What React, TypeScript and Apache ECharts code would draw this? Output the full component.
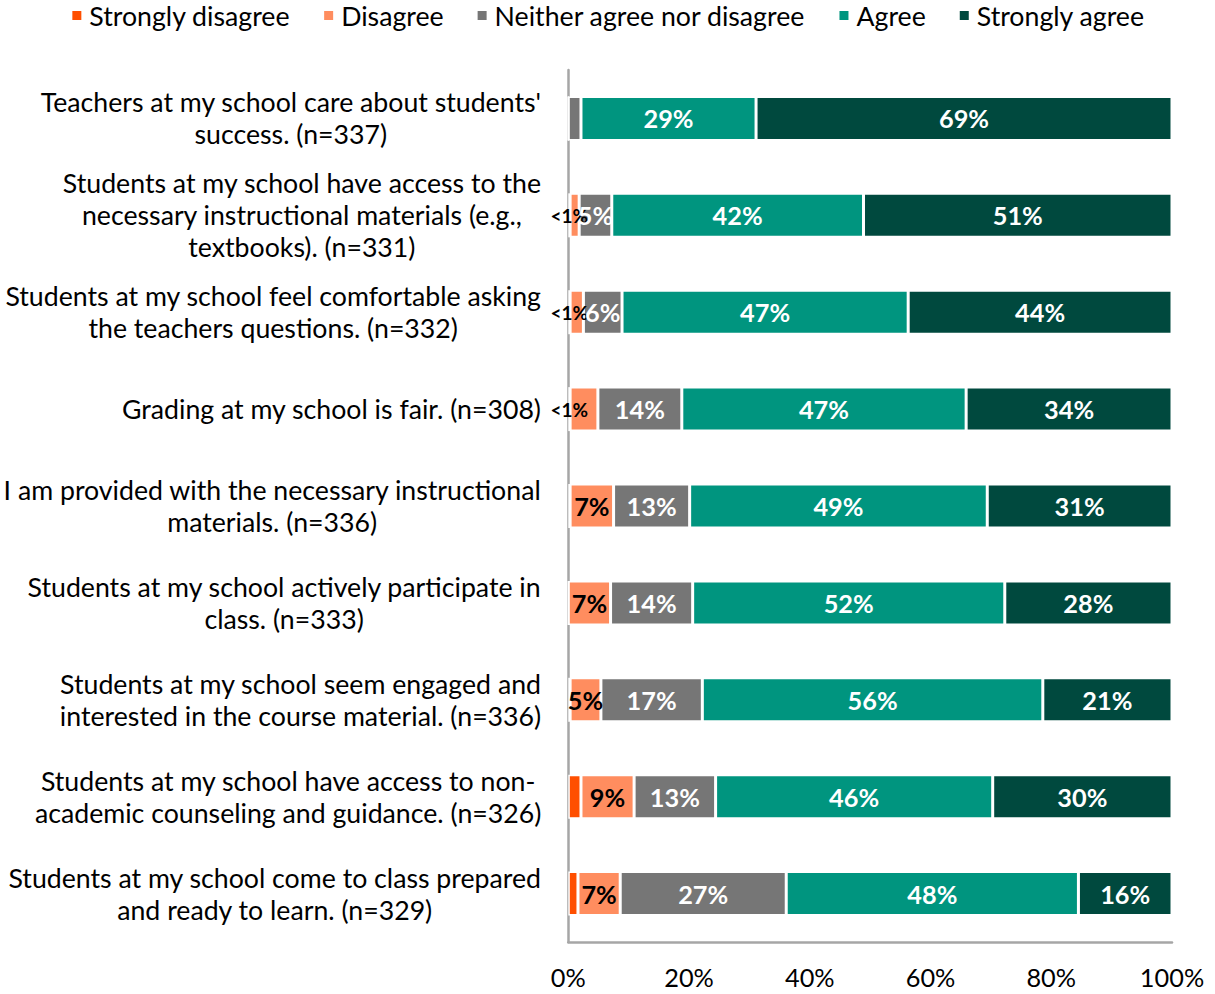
import React, { useEffect, useRef } from "react";
import * as echarts from "echarts";

const categories = [
  "Teachers at my school care about students'\nsuccess. (n=337)",
  "Students at my school have access to the\nnecessary instructional materials (e.g.,\ntextbooks). (n=331)",
  "Students at my school feel comfortable asking\nthe teachers questions. (n=332)",
  "Grading at my school is fair. (n=308)",
  "I am provided with the necessary instructional\nmaterials. (n=336)",
  "Students at my school actively participate in\nclass. (n=333)",
  "Students at my school seem engaged and\ninterested in the course material. (n=336)",
  "Students at my school have access to non-\nacademic counseling and guidance. (n=326)",
  "Students at my school come to class prepared\nand ready to learn. (n=329)",
];

const seriesNames = ["Strongly disagree", "Disagree", "Neither agree nor disagree", "Agree", "Strongly agree"];

const stronglyDisagree = [0, 0.3, 0.3, 0.3, 0.3, 0, 0.3, 2.1, 1.6];
const disagree = [0, 1.5, 2.2, 4.6, 7.2, 7.0, 5.1, 8.8, 7.0];
const neither = [2.1, 5.4, 6.4, 13.9, 12.6, 13.6, 16.8, 13.5, 27.5];
const agree = [29.0, 41.7, 47.4, 47.1, 49.3, 51.7, 56.4, 45.9, 48.4];
const stronglyAgree = [68.9, 51.1, 43.7, 34.1, 30.6, 27.7, 21.4, 29.7, 15.5];

const labelsSD = ["", "<1%", "<1%", "<1%", "", "", "", "", ""];
const labelsD = ["", "", "", "", "7%", "7%", "5%", "9%", "7%"];
const labelsN = ["", "5%", "6%", "14%", "13%", "14%", "17%", "13%", "27%"];
const labelsA = ["29%", "42%", "47%", "47%", "49%", "52%", "56%", "46%", "48%"];
const labelsSA = ["69%", "51%", "44%", "34%", "31%", "28%", "21%", "30%", "16%"];

const xTicks = [0, 20, 40, 60, 80, 100];

const colors = ["#FF4F00", "#FF8D5F", "#767676", "#00957F", "#00493E"];
const FONT = "Lato, 'Open Sans', sans-serif";

export default function App() {
  const ref = useRef<HTMLDivElement>(null);
  useEffect(() => {
    if (!ref.current) return;
    const chart = echarts.init(ref.current, null, { renderer: "svg" });
    const values = [stronglyDisagree, disagree, neither, agree, stronglyAgree];
    const labels = [labelsSD, labelsD, labelsN, labelsA, labelsSA];
    const labelColors = ["#000", "#000", "#fff", "#fff", "#fff"];
    const labelSizes = [19, 25.3, 25.3, 25.3, 25.3];
    const series = seriesNames.map((name, s) => ({
      name,
      type: "bar",
      stack: "total",
      barWidth: 44,
      itemStyle: { color: colors[s], borderColor: "#fff", borderWidth: 1.5 },
      data: values[s].map((v, i) => ({
        value: v,
        label: {
          show: labels[s][i] !== "",
          formatter: labels[s][i],
          position: "inside",
          color: labelColors[s],
          fontSize: labelSizes[s],
          fontWeight: "bold",
          fontFamily: FONT,
        },
      })),
    }));
    chart.setOption({
      animation: false,
      textStyle: { fontFamily: FONT },
      legend: {
        top: -3,
        left: "center",
        icon: "rect",
        itemWidth: 11,
        itemHeight: 11,
        itemGap: 32,
        textStyle: { fontSize: 26.7, color: "#000", fontFamily: FONT, padding: [0, 0, 0, 2] },
        data: seriesNames,
      },
      grid: { left: 563, right: 43, top: 70, bottom: 52 },
      xAxis: {
        type: "value",
        min: xTicks[0],
        max: xTicks[xTicks.length - 1],
        interval: 20,
        axisLine: { show: true, lineStyle: { color: "#a6a6a6", width: 2.5 } },
        axisTick: { show: false },
        splitLine: { show: false },
        axisLabel: {
          formatter: "{value}%",
          fontSize: 25.3,
          color: "#000",
          margin: 22,
          fontFamily: FONT,
        },
      },
      yAxis: {
        type: "category",
        inverse: true,
        data: categories,
        axisLine: { show: true, lineStyle: { color: "#a6a6a6", width: 2.5 } },
        axisTick: { show: false },
        axisLabel: {
          margin: 27,
          fontSize: 26.7,
          color: "#000",
          lineHeight: 32,
          fontFamily: FONT,
          formatter: (v: string) =>
            v
              .split("\n")
              .map((l) => `{c|${l}}`)
              .join("\n"),
          rich: {
            c: { align: "center", fontSize: 26.7, lineHeight: 32, color: "#000", fontFamily: FONT },
          },
        },
      },
      series,
    });
    return () => chart.dispose();
  }, []);
  return (
    <div
      ref={ref}
      style={{ position: "absolute", left: 0, top: 0, width: 1215, height: 994, background: "#fff" }}
    />
  );
}
